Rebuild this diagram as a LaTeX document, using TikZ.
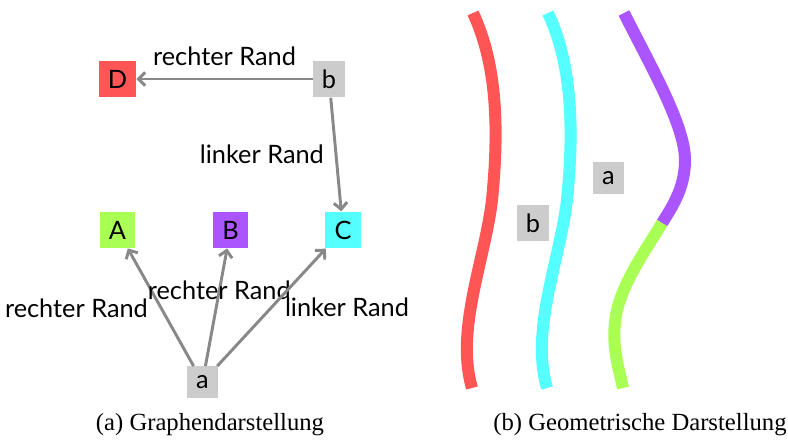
\documentclass[tikz,border=0pt]{standalone}
\usepackage{fontspec}
\setmainfont{Liberation Serif}
\newfontfamily\lblfont{Lato}
\usetikzlibrary{arrows.meta}
\definecolor{cRed}{HTML}{FF5555}
\definecolor{cCyan}{HTML}{55FFFF}
\definecolor{cPurple}{HTML}{AA55FF}
\definecolor{cGreen}{HTML}{AAFF55}
\definecolor{gBox}{HTML}{CCCCCC}
\definecolor{gLine}{HTML}{888888}
\begin{document}
\begin{tikzpicture}[x=0.75pt,y=-0.75pt,
  box/.style={inner sep=6.8pt, font=\lblfont\fontsize{19}{22}\selectfont},
  lbl/.style={inner sep=0pt, font=\lblfont\fontsize{19}{22}\selectfont},
  conn/.style={draw=gLine, line width=2.2pt, -{Straight Barb[length=5pt,width=10pt]}},
  curve/.style={line width=9pt, line cap=butt},
  capt/.style={inner sep=0pt, font=\fontsize{18.5}{21}\selectfont}]
\useasboundingbox (0,0) rectangle (788,442);
% graph part
\node[box, fill=cRed] (D) at (117.5,79) {D};
\node[box, fill=gBox] (b) at (329,79) {b};
\node[box, fill=cGreen] (A) at (117.5,230) {A};
\node[box, fill=cPurple] (B) at (230.5,230) {B};
\node[box, fill=cCyan] (C) at (343,230) {C};
\node[box, fill=gBox] (a) at (202.5,382) {a};
\draw[conn] (b) -- node[lbl, anchor=south, yshift=9pt] {rechter Rand} (D);
\draw[conn] (b) -- node[lbl, anchor=east, xshift=-8pt] {linker Rand} (C);
\draw[conn] (a) -- node[lbl, pos=0.49, anchor=east, xshift=-9pt] {rechter Rand} (A);
\draw[conn] (a) -- node[lbl, pos=0.64] {rechter Rand} (B);
\draw[conn] (a) -- node[lbl, pos=0.5, anchor=west, xshift=9pt] {linker Rand} (C);
% geometric part
\draw[curve, cRed] (473,13) .. controls (495,60) and (500,120) .. (492,200)
  .. controls (485,260) and (455,330) .. (472,388);
\draw[curve, cCyan] (548,13) .. controls (570,60) and (575,120) .. (567,200)
  .. controls (560,260) and (530,330) .. (547,388);
\draw[curve, cPurple] (624,13) .. controls (650,65) and (685,125) .. (685,160)
  .. controls (685,185) and (675,203) .. (662,223);
\draw[curve, cGreen] (662,223) .. controls (648,247) and (622,282) .. (616,315)
  .. controls (611,345) and (618,365) .. (623,388);
\node[box, fill=gBox] (a2) at (608.5,178) {a};
\node[box, fill=gBox] (b2) at (533,223) {b};
% captions
\node[capt] (capA) at (210,425) {(a) Graphendarstellung};
\node[capt] (capB) at (640,425) {(b) Geometrische Darstellung};
\end{tikzpicture}
\end{document}
